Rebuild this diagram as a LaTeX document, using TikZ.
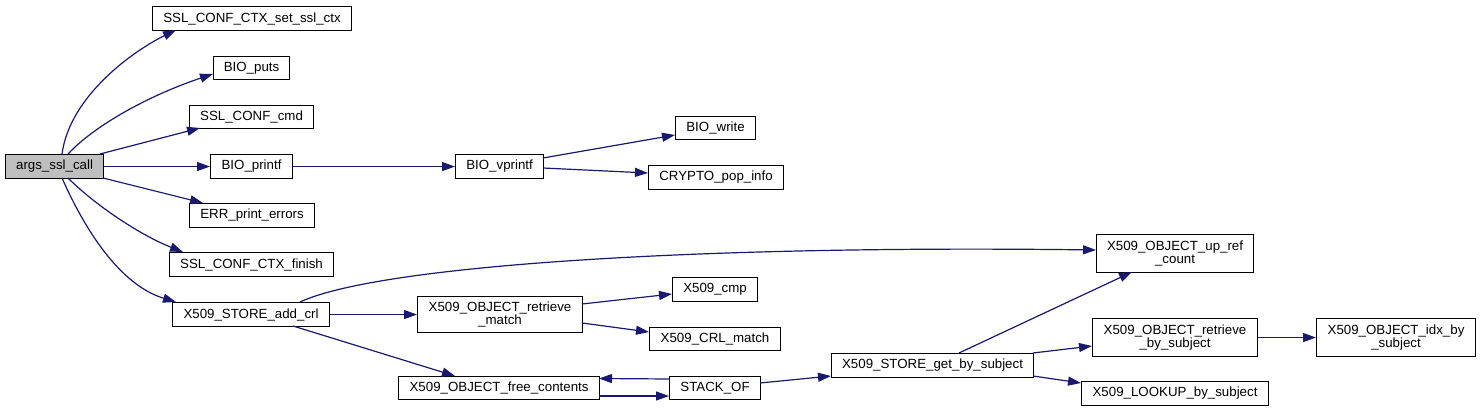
\documentclass[tikz,border=0pt]{standalone}
\usepackage{fontspec}
\setmainfont{Liberation Sans}
\usetikzlibrary{arrows.meta}
\definecolor{edgeblue}{HTML}{191970}
\definecolor{rootgray}{HTML}{BFBFBF}
\tikzset{
  fn/.style={draw=black, line width=1.1pt, fill=white, anchor=north west, inner sep=0pt,
    font=\fontsize{13.3}{13.3}\selectfont, align=center},
  root/.style={fn, fill=rootgray},
  call/.style={draw=edgeblue, line width=1.2pt, -{Triangle[length=13pt,width=9pt]}}
}
\begin{document}
\begin{tikzpicture}[x=1pt,y=-1pt]
\fill[white] (0,0) rectangle (1480,411);
\useasboundingbox (0,0) rectangle (1480,411);

\node[root, minimum width=98pt, minimum height=24pt] (args) at (5,154) {args\_ssl\_call};
\node[fn, minimum width=199pt, minimum height=24pt] (setssl) at (152,6) {SSL\_CONF\_CTX\_set\_ssl\_ctx};
\node[fn, minimum width=76pt, minimum height=23pt] (puts) at (213,56) {BIO\_puts};
\node[fn, minimum width=124pt, minimum height=23pt] (cmd) at (189,105) {SSL\_CONF\_cmd};
\node[fn, minimum width=82pt, minimum height=24pt] (printf) at (210,154) {BIO\_printf};
\node[fn, minimum width=125pt, minimum height=24pt] (err) at (189,203) {ERR\_print\_errors};
\node[fn, minimum width=164pt, minimum height=24pt] (finish) at (169,252) {SSL\_CONF\_CTX\_finish};
\node[fn, minimum width=157pt, minimum height=24pt] (addcrl) at (172,302) {X509\_STORE\_add\_crl};
\node[fn, minimum width=88pt, minimum height=24pt] (vprintf) at (455,154) {BIO\_vprintf};
\node[fn, minimum width=80pt, minimum height=23pt] (write) at (675,116) {BIO\_write};
\node[fn, minimum width=135pt, minimum height=24pt] (pop) at (648,165) {CRYPTO\_pop\_info};
\node[fn, minimum width=165pt, minimum height=36pt] (rmatch) at (417,296) {X509\_OBJECT\_retrieve\\\_match};
\node[fn, minimum width=85pt, minimum height=24pt] (cmp) at (672,277) {X509\_cmp};
\node[fn, minimum width=131pt, minimum height=23pt] (crlmatch) at (649,327) {X509\_CRL\_match};
\node[fn, minimum width=201pt, minimum height=23pt] (free) at (398,376) {X509\_OBJECT\_free\_contents};
\node[fn, minimum width=91pt, minimum height=23pt] (stack) at (669,376) {STACK\_OF};
\node[fn, minimum width=202pt, minimum height=24pt] (gbs) at (831,353) {X509\_STORE\_get\_by\_subject};
\node[fn, minimum width=157pt, minimum height=38pt] (upref) at (1096,234) {X509\_OBJECT\_up\_ref\\\_count};
\node[fn, minimum width=165pt, minimum height=38pt] (rbs) at (1092,318) {X509\_OBJECT\_retrieve\\\_by\_subject};
\node[fn, minimum width=159pt, minimum height=38pt] (idx) at (1316,318) {X509\_OBJECT\_idx\_by\\\_subject};
\node[fn, minimum width=187pt, minimum height=24pt] (lookup) at (1081,381) {X509\_LOOKUP\_by\_subject};

\draw[call] ([shift={(57,0)}]args.north west) .. controls (70,95) and (135,50) .. ([shift={(24,24)}]setssl.north west);
\draw[call] ([shift={(63,0)}]args.north west) .. controls (95,125) and (150,95) .. ([shift={(0,18)}]puts.north west);
\draw[call] ([shift={(95,0)}]args.north west) -- ([shift={(11,23)}]cmd.north west);
\draw[call] (args.east) -- (printf.west);
\draw[call] ([shift={(98,24)}]args.north west) -- ([shift={(14,0)}]err.north west);
\draw[call] ([shift={(63,24)}]args.north west) .. controls (95,205) and (140,235) .. ([shift={(14,0)}]finish.north west);
\draw[call] ([shift={(57,24)}]args.north west) .. controls (85,230) and (120,285) .. ([shift={(4,0)}]addcrl.north west);

\draw[call] (printf.east) -- (vprintf.west);
\draw[call] ([shift={(88,4)}]vprintf.north west) -- ([shift={(0,19)}]write.north west);
\draw[call] ([shift={(88,14)}]vprintf.north west) -- ([shift={(0,8)}]pop.north west);

\draw[call] ([shift={(128,0)}]addcrl.north west) .. controls (380,265) and (700,245) .. ([shift={(0,16)}]upref.north west);
\draw[call] (addcrl.east) -- (rmatch.west);
\draw[call] ([shift={(121,24)}]addcrl.north west) -- ([shift={(57,0)}]free.north west);
\draw[call] ([shift={(165,8)}]rmatch.north west) -- ([shift={(0,17)}]cmp.north west);
\draw[call] ([shift={(165,27)}]rmatch.north west) -- ([shift={(0,5)}]crlmatch.north west);
\draw[call] ([shift={(201,20)}]free.north west) -- ([shift={(0,20)}]stack.north west);
\draw[call] ([shift={(0,3)}]stack.north west) -- ([shift={(201,2.5)}]free.north west);
\draw[call] ([shift={(91,7)}]stack.north west) -- ([shift={(0,23)}]gbs.north west);
\draw[call] ([shift={(128,0)}]gbs.north west) -- ([shift={(36,38)}]upref.north west);
\draw[call] ([shift={(202,0)}]gbs.north west) -- ([shift={(0,28)}]rbs.north west);
\draw[call] ([shift={(202,23)}]gbs.north west) -- ([shift={(0,2)}]lookup.north west);
\draw[call] (rbs.east) -- (idx.west);
\end{tikzpicture}
\end{document}
